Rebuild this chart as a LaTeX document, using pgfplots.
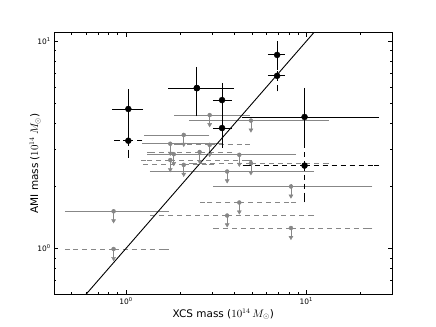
\documentclass[border=0pt]{standalone}
\usepackage{fontspec}
\setmainfont{DejaVu Sans}
\usepackage{pgfplots}
\usepackage{pgfplotstable}
\pgfplotsset{compat=1.18}
\definecolor{limgray}{RGB}{135,135,135}

% detections: x, y, x range, y range
\pgfplotstableread{
x    y    xlo   xhi   ylo   yhi
1.03 4.71 0.868 1.20  3.73  5.70
2.47 5.94 1.78  3.82  4.49  7.30
3.41 5.20 3.14  3.72  4.25  6.10
3.41 3.81 3.14  3.72  3.15  3.98
6.89 8.59 6.35  7.35  7.67  9.67
9.78 4.31 4.53  24.5  3.27  5.77
}\detsolid
\pgfplotstableread{
x    y    xlo   xhi   ylo   yhi
1.03 3.31 0.89  1.19  2.83  3.52
2.47 5.94 1.78  3.82  4.80  7.00
6.89 6.81 6.35  7.35  5.91  7.47
9.78 2.51 4.60  24.5  1.72  3.30
}\detdashed

% upper limits: x, x range, limit, arrow tip
\pgfplotstableread{
x     xlo   xhi   y     tip
2.91  1.91  4.69  4.40  3.96
4.93  2.31  12.9  4.14  3.73
2.09  1.30  2.81  3.53  3.18
1.76  1.27  3.30  3.20  2.88
1.84  1.35  3.77  2.85  2.57
4.25  2.67  8.50  2.83  2.55
3.64  1.40  10.7  2.35  2.12
8.22  3.14  22.5  1.99  1.79
0.853 0.472 1.67  1.51  1.36
}\limsolid
\pgfplotstableread{
x     xlo   xhi   y     tip
2.91  1.91  4.69  3.16  2.84
4.93  2.31  12.9  2.58  2.32
2.09  1.28  2.99  2.53  2.28
1.76  1.25  4.87  2.67  2.40
2.56  1.35  3.77  2.92  2.63
4.25  2.67  8.50  1.665 1.50
3.64  1.40  10.7  1.44  1.30
8.22  3.14  22.5  1.254 1.13
0.853 0.472 1.67  0.993 0.894
}\limdashed

\pgfplotsset{
  xbars/.style={only marks, mark=none,
    error bars/.cd, x dir=both, x explicit,
    error bar style={line width=0.8bp, #1},
    error mark options={solid, mark size=2.5bp, line width=0.8bp}},
  arrows down/.style={only marks, mark=triangle*, mark size=2.3bp,
    mark options={rotate=180, solid},
    error bars/.cd, y dir=plus, y explicit,
    error bar style={line width=0.8bp, solid},
    error mark options={solid, mark size=2bp, line width=0.8bp}},
  dets/.style={only marks, mark=*, mark size=3bp,
    error bars/.cd, x dir=both, y dir=both, x explicit, y explicit,
    error bar style={line width=0.9bp, #1},
    error mark options={solid, mark size=2.8bp, line width=0.9bp}},
}

\begin{document}
\begin{tikzpicture}
\begin{axis}[
  name=ax,
  xmode=log, ymode=log,
  xmin=0.4, xmax=30, ymin=0.6, ymax=11,
  width=338bp, height=261.6bp, scale only axis,
  xtick={1,10}, xticklabels={10\textsuperscript{0},10\textsuperscript{1}},
  ytick={1,10}, yticklabels={10\textsuperscript{0},10\textsuperscript{1}},
  minor xtick={0.4,0.5,0.6,0.7,0.8,0.9,2,3,4,5,6,7,8,9,20,30},
  minor ytick={0.6,0.7,0.8,0.9,2,3,4,5,6,7,8,9},
  major tick length=4bp, minor tick length=2bp,
  tick style={black, line width=0.6bp},
  axis line style={black, line width=0.9bp},
  tick label style={font=\fontsize{7.5}{9}\selectfont},
  label style={font=\fontsize{10.5}{12}\selectfont},
  xlabel={XCS mass ($10^{14}\,M_\odot$)},
  ylabel={AMI mass ($10^{14}\,M_\odot$)},
  xlabel shift=-3bp,
  ylabel shift=-10bp,
]
% upper limits, solid bars
\addplot[limgray, xbars={solid}] table[x=x, y=y,
  x error plus expr=\thisrow{xhi}-\thisrow{x},
  x error minus expr=\thisrow{x}-\thisrow{xlo}] {\limsolid};
\addplot[limgray, arrows down] table[x=x, y=tip,
  y error plus expr=\thisrow{y}-\thisrow{tip}] {\limsolid};
% upper limits, dashed bars
\addplot[limgray, xbars={dash pattern=on 5bp off 4bp}] table[x=x, y=y,
  x error plus expr=\thisrow{xhi}-\thisrow{x},
  x error minus expr=\thisrow{x}-\thisrow{xlo}] {\limdashed};
\addplot[limgray, arrows down] table[x=x, y=tip,
  y error plus expr=\thisrow{y}-\thisrow{tip}] {\limdashed};
% one-to-one line
\addplot[black, line width=0.9bp] coordinates {(0.4,0.4) (30,30)};
% detections
\addplot[black, dets={dash pattern=on 5bp off 4bp}] table[x=x, y=y,
  x error plus expr=\thisrow{xhi}-\thisrow{x},
  x error minus expr=\thisrow{x}-\thisrow{xlo},
  y error plus expr=\thisrow{yhi}-\thisrow{y},
  y error minus expr=\thisrow{y}-\thisrow{ylo}] {\detdashed};
\addplot[black, dets={solid}] table[x=x, y=y,
  x error plus expr=\thisrow{xhi}-\thisrow{x},
  x error minus expr=\thisrow{x}-\thisrow{xlo},
  y error plus expr=\thisrow{yhi}-\thisrow{y},
  y error minus expr=\thisrow{y}-\thisrow{ylo}] {\detsolid};
\end{axis}
\pgfresetboundingbox
\useasboundingbox ([xshift=-54.3bp,yshift=-32.7bp]ax.south west)
  rectangle ([xshift=43.7bp,yshift=32.7bp]ax.north east);
\end{tikzpicture}
\end{document}
